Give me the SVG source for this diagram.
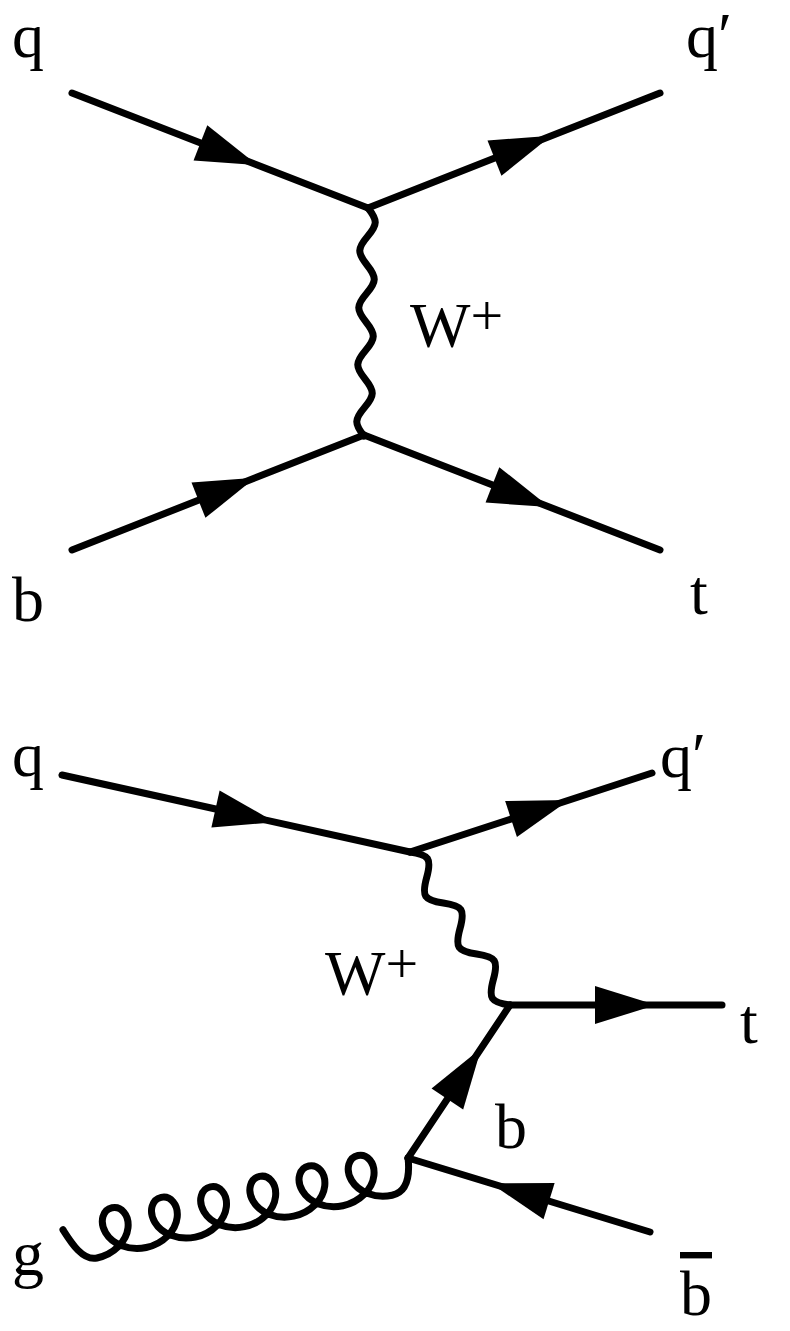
<svg xmlns="http://www.w3.org/2000/svg" width="790" height="1331" viewBox="0 0 790 1331">
<style>
.ln{fill:none;stroke:#000;stroke-width:7;stroke-linecap:round;stroke-linejoin:round}
.fm{marker-mid:url(#arr)}
.lb{font-family:"Liberation Serif","Times New Roman",serif;font-size:64px;fill:#000}
.sup{font-size:58px}
</style>
<defs>
<marker id="arr" markerUnits="userSpaceOnUse" viewBox="-50 -50 100 100" markerWidth="100" markerHeight="100" refX="0" refY="0" orient="auto">
<polygon points="40,0 -21,-19 -21,19" fill="#000"/>
</marker>
</defs>
<rect width="790" height="1331" fill="#fff"/>
<g id="connectors">
<path id="top-q" class="ln fm" d="M72,93 L220,150.5 L368,208"/>
<path id="top-qp" class="ln fm" d="M368,208 L514,150.5 L660,93"/>
<path id="top-b" class="ln fm" d="M72,550 L218,492.5 L364,435"/>
<path id="top-t" class="ln fm" d="M364,435 L512,492.5 L660,550"/>
<path id="top-W" class="ln" transform="translate(368,208) rotate(91)" d="M0,0 c12.1,-10 16.4,-10 28.5,0 c12.1,10 16.4,10 28.5,0 c12.1,-10 16.4,-10 28.5,0 c12.1,10 16.4,10 28.5,0 c12.1,-10 16.4,-10 28.5,0 c12.1,10 16.4,10 28.5,0 c12.1,-10 16.4,-10 28.5,0 c12.1,10 16.4,10 28.5,0"/>
<path id="bot-q" class="ln fm" d="M62,775 L236,813.5 L410,852"/>
<path id="bot-qp" class="ln fm" d="M410,852 L531,812.5 L652,773"/>
<path id="bot-t" class="ln fm" d="M510,1005 L616,1005 L722,1005"/>
<path id="bot-b" class="ln fm" d="M408,1158 L459,1081.5 L510,1005"/>
<path id="bot-bbar" class="ln fm" d="M650,1232 L529,1195 L408,1158"/>
<path id="bot-W" class="ln" transform="translate(410,852) rotate(56.83)" d="M0,0 c12.93,-14.67 17.54,-14.67 30.47,0 c12.93,14.67 17.54,14.67 30.47,0 c12.93,-14.67 17.54,-14.67 30.47,0 c12.93,14.67 17.54,14.67 30.47,0 c12.93,-14.67 17.54,-14.67 30.47,0 c12.93,14.67 17.54,14.67 30.47,0"/>
<path id="bot-g" class="ln" transform="translate(97,1258) rotate(-12)" d="M-27.4,-34.7 c4.9,13.1 12.4,34.7 27.4,34.7
c17.45,0 32.38,-10.3 36.57,-23 c4.19,-12.7 -2.37,-23 -11.43,-23 c-9.07,0 -15.62,10.3 -11.43,23 c4.19,12.7 19.12,23 36.57,23
c17.45,0 32.38,-10.3 36.57,-23 c4.19,-12.7 -2.37,-23 -11.43,-23 c-9.07,0 -15.62,10.3 -11.43,23 c4.19,12.7 19.12,23 36.57,23
c17.45,0 32.38,-10.3 36.57,-23 c4.19,-12.7 -2.37,-23 -11.43,-23 c-9.07,0 -15.62,10.3 -11.43,23 c4.19,12.7 19.12,23 36.57,23
c17.45,0 32.38,-10.3 36.57,-23 c4.19,-12.7 -2.37,-23 -11.43,-23 c-9.07,0 -15.62,10.3 -11.43,23 c4.19,12.7 19.12,23 36.57,23
c17.45,0 32.38,-10.3 36.57,-23 c4.19,-12.7 -2.37,-23 -11.43,-23 c-9.07,0 -15.62,10.3 -11.43,23 c4.19,12.7 19.12,23 36.57,23
c17.45,0 32.38,-10.3 36.57,-23 c4.19,-12.7 -2.37,-23 -11.43,-23 c-9.07,0 -15.62,10.3 -11.43,23 c4.19,12.7 19.12,23 36.57,23
c17.45,0 21.9,-19.2 23.4,-33.2"/>
</g>
<g id="top-label-q"><text class="lb" x="12" y="57">q</text></g>
<g id="top-label-qp"><text class="lb" x="686" y="57">q′</text></g>
<g id="top-label-W"><text class="lb" x="410" y="347">W<tspan class="sup" dy="-12">+</tspan></text></g>
<g id="top-label-b"><text class="lb" x="12" y="621">b</text></g>
<g id="top-label-t"><text class="lb" x="690" y="614">t</text></g>
<g id="bot-label-q"><text class="lb" x="12" y="776">q</text></g>
<g id="bot-label-qp"><text class="lb" x="660" y="777">q′</text></g>
<g id="bot-label-W"><text class="lb" x="325" y="995">W<tspan class="sup" dy="-12">+</tspan></text></g>
<g id="bot-label-t"><text class="lb" x="740" y="1043">t</text></g>
<g id="bot-label-b"><text class="lb" x="495" y="1148">b</text></g>
<g id="bot-label-g"><text class="lb" x="12" y="1275">g</text></g>
<g id="bot-label-bbar"><text class="lb" x="680" y="1315" text-decoration="overline">b</text></g>
</svg>
